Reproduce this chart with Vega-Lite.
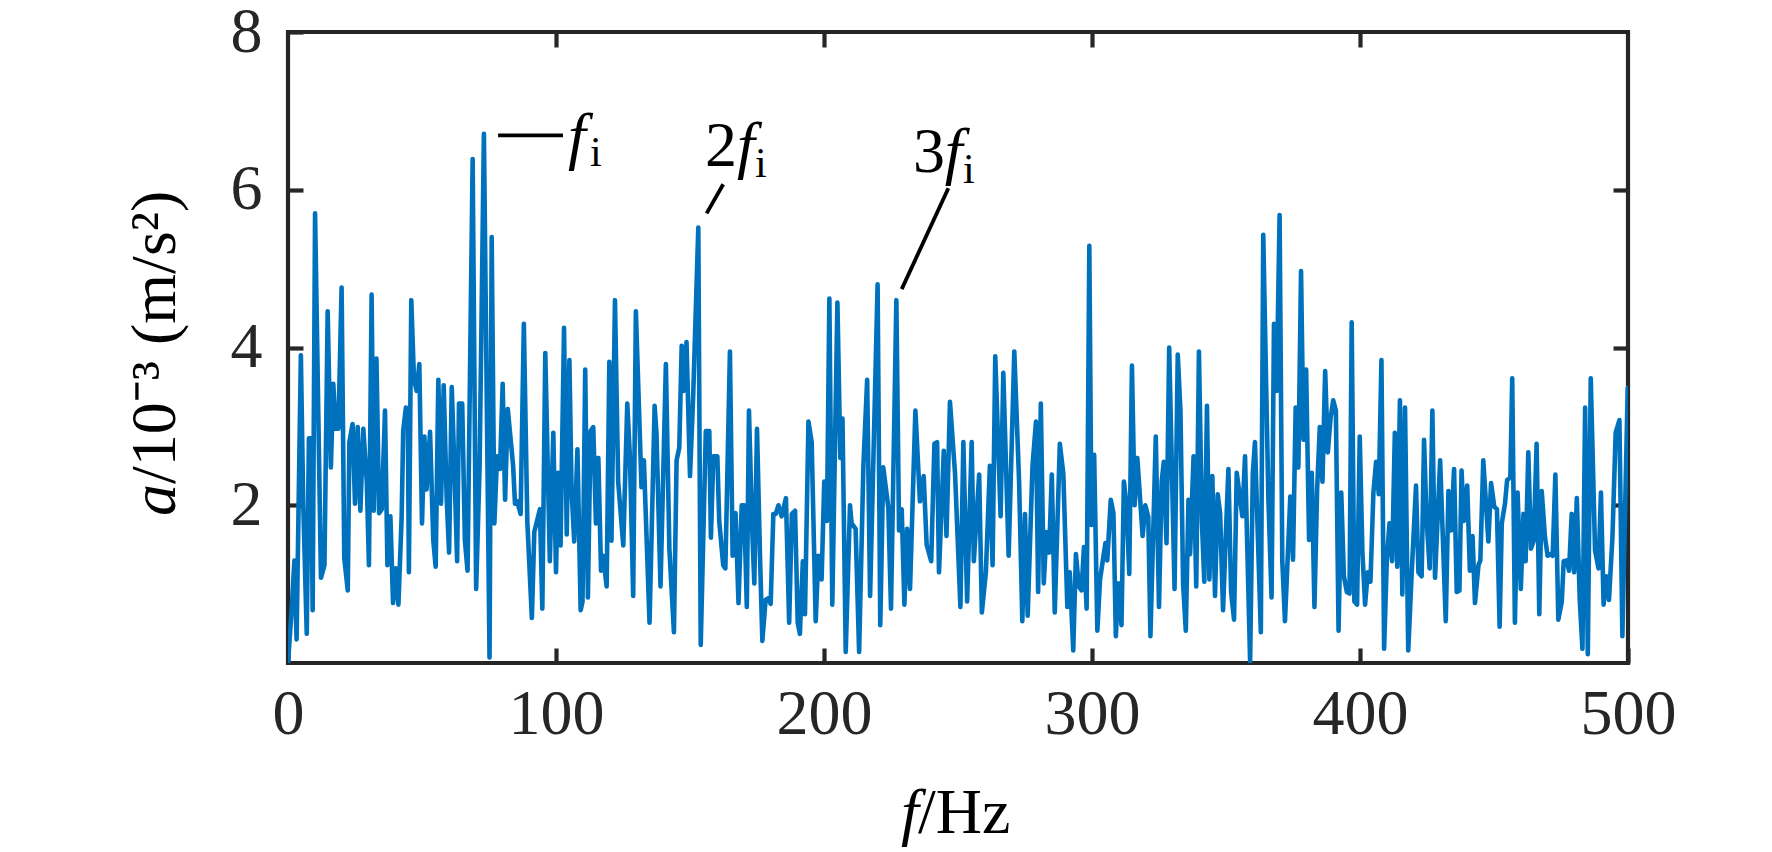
{
  "$schema": "https://vega.github.io/schema/vega-lite/v6.json",
  "description": "Acceleration spectrum a/10^-3 (m/s2) against frequency f/Hz, with fi, 2fi and 3fi marked.",
  "width": 1340,
  "height": 631,
  "autosize": "none",
  "padding": {"left": 288, "top": 32, "right": 144, "bottom": 189},
  "background": "white",
  "config": {
    "view": {"stroke": "#262626", "strokeWidth": 4.2},
    "font": "Liberation Serif"
  },
  "datasets": {
    "spectrum": [
      {"f":0,"a":0},{"f":1.4,"a":0.7},{"f":2.4,"a":1.3},{"f":3.2,"a":0.3},{"f":4.8,"a":3.9},{"f":5.7,"a":2.0},{"f":7,"a":0.37},{"f":7.8,"a":2.85},{"f":8.6,"a":2.85},{"f":9.2,"a":0.67},
      {"f":10.1,"a":5.7},{"f":12.3,"a":1.08},{"f":13.6,"a":1.24},{"f":14.8,"a":4.46},{"f":16,"a":2.48},{"f":16.9,"a":3.54},{"f":17.8,"a":2.97},{"f":18.8,"a":2.97},{"f":20,"a":4.76},{"f":21,"a":1.33},
      {"f":22.3,"a":0.92},{"f":22.9,"a":2.8},{"f":24.1,"a":3.03},{"f":25,"a":2.02},{"f":26,"a":2.99},{"f":27,"a":1.93},{"f":28.1,"a":2.97},{"f":29.4,"a":2.3},{"f":30.2,"a":1.24},{"f":31.2,"a":4.67},
      {"f":32,"a":1.93},{"f":33,"a":3.86},{"f":34,"a":1.9},{"f":35,"a":1.95},{"f":36.2,"a":3.2},{"f":37.1,"a":1.24},{"f":38.2,"a":1.86},{"f":39.2,"a":0.76},{"f":40.2,"a":1.2},{"f":41.2,"a":0.74},
      {"f":42.4,"a":1.85},{"f":43,"a":2.95},{"f":44,"a":3.24},{"f":44.7,"a":3.22},{"f":45.1,"a":1.15},{"f":46,"a":4.6},{"f":47,"a":3.6},{"f":48,"a":3.45},{"f":49,"a":3.79},{"f":50,"a":1.77},
      {"f":50.9,"a":2.87},{"f":51.7,"a":2.2},{"f":53,"a":2.93},{"f":54.2,"a":1.56},{"f":55.1,"a":1.22},{"f":56.1,"a":3.59},{"f":57.1,"a":2.02},{"f":58.1,"a":3.52},{"f":59.2,"a":2.1},{"f":60.1,"a":1.4},
      {"f":61.1,"a":3.5},{"f":62.1,"a":2.47},{"f":63.1,"a":1.29},{"f":63.8,"a":3.29},{"f":65,"a":3.29},{"f":66,"a":1.56},{"f":67,"a":1.17},{"f":68.9,"a":6.39},{"f":70.2,"a":0.94},{"f":71.5,"a":2.5},
      {"f":73.1,"a":6.71},{"f":75.2,"a":0.07},{"f":76,"a":5.4},{"f":77,"a":1.77},{"f":78,"a":2.62},{"f":79.1,"a":2.46},{"f":80.1,"a":3.54},{"f":81,"a":2.07},{"f":82,"a":3.22},{"f":84,"a":2.5},
      {"f":84.7,"a":2.02},{"f":85.5,"a":2.05},{"f":86.8,"a":1.89},{"f":88,"a":4.3},{"f":89.3,"a":1.79},{"f":91,"a":0.57},{"f":91.9,"a":1.66},{"f":94,"a":1.95},{"f":94.9,"a":0.69},{"f":96,"a":3.93},
      {"f":97.7,"a":1.29},{"f":99,"a":2.92},{"f":100,"a":1.15},{"f":100.8,"a":2.41},{"f":101.7,"a":1.49},{"f":103,"a":4.25},{"f":104,"a":1.63},{"f":105,"a":3.84},{"f":105.8,"a":2.2},{"f":106.8,"a":1.54},
      {"f":108,"a":2.71},{"f":109.2,"a":0.67},{"f":109.9,"a":0.78},{"f":110.9,"a":3.72},{"f":111.9,"a":0.83},{"f":112.9,"a":2.94},{"f":113.9,"a":2.99},{"f":114.9,"a":1.77},{"f":115.8,"a":2.6},{"f":116.8,"a":1.17},
      {"f":117.6,"a":1.36},{"f":118.9,"a":0.97},{"f":119.9,"a":3.82},{"f":120.7,"a":1.55},{"f":122,"a":4.6},{"f":123.2,"a":2.3},{"f":125.1,"a":1.49},{"f":126.6,"a":3.29},{"f":127.6,"a":2.6},{"f":128.8,"a":0.85},
      {"f":129.8,"a":4.46},{"f":131.9,"a":2.23},{"f":132.8,"a":2.57},{"f":134.9,"a":0.51},{"f":136.8,"a":3.26},{"f":137.5,"a":2.9},{"f":139,"a":0.97},{"f":141,"a":3.79},{"f":142.3,"a":1.45},{"f":144,"a":0.39},
      {"f":145,"a":2.57},{"f":146,"a":2.73},{"f":146.9,"a":4.02},{"f":147.7,"a":3.45},{"f":148.7,"a":4.07},{"f":150,"a":2.37},{"f":151.2,"a":3.4},{"f":153.1,"a":5.52},{"f":154,"a":0.23},{"f":155.9,"a":2.94},
      {"f":157.2,"a":2.94},{"f":157.8,"a":1.59},{"f":158.7,"a":2.62},{"f":160.2,"a":2.62},{"f":160.9,"a":1.8},{"f":162.4,"a":1.24},{"f":163.2,"a":1.2},{"f":164.9,"a":3.95},{"f":165.9,"a":1.36},{"f":167,"a":1.9},
      {"f":168.1,"a":0.76},{"f":169.3,"a":2.0},{"f":170.2,"a":2.0},{"f":171.2,"a":0.71},{"f":172,"a":3.2},{"f":173.2,"a":1.7},{"f":174,"a":1.01},{"f":175,"a":2.97},{"f":176.1,"a":1.38},{"f":177,"a":0.28},
      {"f":178.2,"a":0.8},{"f":179.2,"a":0.82},{"f":180.1,"a":0.75},{"f":181.1,"a":1.89},{"f":182,"a":1.89},{"f":183,"a":2.0},{"f":184.2,"a":1.86},{"f":185.8,"a":2.09},{"f":187,"a":0.51},{"f":188,"a":1.89},
      {"f":189.2,"a":1.93},{"f":190.2,"a":0.51},{"f":191,"a":0.37},{"f":192.1,"a":1.29},{"f":192.9,"a":0.62},{"f":194.2,"a":3.06},{"f":195.4,"a":2.8},{"f":196.9,"a":0.53},{"f":197.9,"a":1.36},{"f":199.1,"a":1.06},
      {"f":200.1,"a":2.3},{"f":201.1,"a":1.8},{"f":202,"a":4.62},{"f":203.1,"a":0.74},{"f":205,"a":4.57},{"f":206.1,"a":2.6},{"f":206.9,"a":3.1},{"f":208.1,"a":0.14},{"f":209.7,"a":2.0},{"f":210.3,"a":1.77},
      {"f":211.8,"a":1.7},{"f":213.1,"a":0.14},{"f":214.7,"a":2.5},{"f":216.1,"a":3.59},{"f":217.2,"a":0.85},{"f":220,"a":4.8},{"f":221,"a":0.48},{"f":222.1,"a":2.48},{"f":224,"a":1.97},{"f":225,"a":0.69},
      {"f":227,"a":4.6},{"f":228,"a":1.68},{"f":229,"a":1.95},{"f":230,"a":0.74},{"f":231,"a":1.7},{"f":232.1,"a":0.94},{"f":234.1,"a":3.2},{"f":235.8,"a":2.05},{"f":237.2,"a":2.37},{"f":238.3,"a":1.5},
      {"f":240,"a":1.29},{"f":241.2,"a":2.78},{"f":242.2,"a":2.8},{"f":242.9,"a":1.15},{"f":244.7,"a":2.69},{"f":245.7,"a":1.61},{"f":247,"a":3.31},{"f":248.9,"a":2.4},{"f":250.9,"a":0.71},{"f":252,"a":2.8},
      {"f":253.4,"a":0.78},{"f":255.1,"a":2.8},{"f":255.9,"a":1.29},{"f":257.9,"a":2.39},{"f":258.9,"a":0.64},{"f":260.4,"a":1.15},{"f":261.9,"a":2.5},{"f":262.9,"a":1.24},{"f":263.9,"a":3.89},{"f":265.9,"a":1.86},
      {"f":266.9,"a":3.68},{"f":268.9,"a":1.36},{"f":271,"a":3.95},{"f":272.8,"a":2.3},{"f":274,"a":0.53},{"f":275,"a":1.89},{"f":276,"a":0.6},{"f":277.8,"a":2.5},{"f":279.1,"a":3.06},{"f":279.9,"a":0.9},
      {"f":280.9,"a":3.29},{"f":282,"a":1.01},{"f":283,"a":1.66},{"f":284,"a":1.4},{"f":285,"a":2.39},{"f":286.1,"a":0.64},{"f":288,"a":2.78},{"f":289.3,"a":2.4},{"f":290.8,"a":0.71},{"f":291.7,"a":1.15},
      {"f":293,"a":0.16},{"f":294,"a":1.38},{"f":295.1,"a":0.97},{"f":296.1,"a":0.92},{"f":297,"a":1.47},{"f":298,"a":0.69},{"f":299,"a":5.29},{"f":299.8,"a":1.75},{"f":300.8,"a":2.64},{"f":302,"a":0.41},
      {"f":303,"a":1.06},{"f":305,"a":1.52},{"f":305.7,"a":1.3},{"f":307,"a":2.07},{"f":308,"a":1.9},{"f":308.9,"a":0.34},{"f":309.8,"a":1.01},{"f":311,"a":0.48},{"f":311.9,"a":2.3},{"f":312.9,"a":2.0},
      {"f":313.9,"a":1.13},{"f":314.9,"a":3.77},{"f":315.9,"a":2.0},{"f":316.9,"a":2.6},{"f":318.9,"a":1.61},{"f":319.9,"a":2.0},{"f":321,"a":1.85},{"f":321.8,"a":0.34},{"f":323.8,"a":2.87},{"f":325,"a":0.71},
      {"f":326,"a":2.3},{"f":326.8,"a":2.55},{"f":327.8,"a":1.52},{"f":328.8,"a":4.0},{"f":330.8,"a":0.94},{"f":332,"a":3.91},{"f":333,"a":3.2},{"f":334,"a":1.0},{"f":335,"a":0.41},{"f":336,"a":2.07},
      {"f":336.6,"a":1.38},{"f":337.9,"a":2.62},{"f":338.9,"a":0.97},{"f":339.9,"a":3.95},{"f":341,"a":1.8},{"f":341.9,"a":1.03},{"f":342.9,"a":3.26},{"f":343.8,"a":1.06},{"f":344.9,"a":2.37},{"f":345.9,"a":0.85},
      {"f":346.9,"a":2.14},{"f":347.8,"a":1.9},{"f":348.9,"a":0.67},{"f":349.9,"a":1.6},{"f":350.9,"a":2.46},{"f":351.9,"a":0.9},{"f":353,"a":0.55},{"f":354,"a":2.41},{"f":355.2,"a":2.1},{"f":356.1,"a":1.86},
      {"f":357.1,"a":2.62},{"f":359,"a":0.02},{"f":360,"a":2.4},{"f":360.8,"a":2.8},{"f":363,"a":0.39},{"f":363.9,"a":5.43},{"f":365.8,"a":2.1},{"f":367,"a":0.83},{"f":367.9,"a":4.3},{"f":368.9,"a":3.45},
      {"f":370,"a":5.68},{"f":371,"a":1.3},{"f":372,"a":0.53},{"f":374,"a":2.11},{"f":375,"a":1.31},{"f":376,"a":3.24},{"f":377,"a":2.48},{"f":378,"a":4.97},{"f":378.9,"a":2.83},{"f":379.9,"a":3.72},
      {"f":381,"a":1.56},{"f":382,"a":2.41},{"f":383,"a":0.71},{"f":384,"a":2.2},{"f":385,"a":2.99},{"f":386,"a":2.3},{"f":387,"a":3.7},{"f":388,"a":2.67},{"f":389,"a":3.1},{"f":390,"a":3.33},
      {"f":391,"a":3.2},{"f":392,"a":0.41},{"f":393,"a":2.16},{"f":394,"a":1.1},{"f":395.1,"a":0.9},{"f":396.1,"a":0.88},{"f":396.9,"a":4.32},{"f":397.9,"a":0.78},{"f":398.9,"a":0.74},{"f":399.9,"a":2.87},
      {"f":400.9,"a":1.4},{"f":401.9,"a":0.74},{"f":402.9,"a":1.15},{"f":403.9,"a":1.03},{"f":405,"a":2.16},{"f":406,"a":2.55},{"f":407,"a":2.14},{"f":408,"a":3.84},{"f":409,"a":0.18},{"f":410,"a":1.3},
      {"f":411,"a":1.77},{"f":412,"a":1.29},{"f":413,"a":2.92},{"f":413.9,"a":1.22},{"f":414.9,"a":3.33},{"f":415.8,"a":0.87},{"f":416.8,"a":3.24},{"f":418,"a":0.16},{"f":419.3,"a":1.15},{"f":420.9,"a":2.25},
      {"f":421.8,"a":1.15},{"f":423,"a":1.1},{"f":423.9,"a":2.83},{"f":424.8,"a":1.85},{"f":426,"a":1.2},{"f":427,"a":3.2},{"f":428,"a":1.08},{"f":429.9,"a":2.57},{"f":432,"a":0.53},{"f":433,"a":2.18},
      {"f":434,"a":1.68},{"f":435.1,"a":2.46},{"f":436.1,"a":0.9},{"f":437.1,"a":0.92},{"f":437.9,"a":2.44},{"f":438.7,"a":1.8},{"f":440,"a":2.25},{"f":441,"a":1.17},{"f":442,"a":1.61},{"f":442.9,"a":0.76},
      {"f":444.2,"a":1.24},{"f":444.9,"a":1.3},{"f":446,"a":2.57},{"f":447.9,"a":1.54},{"f":448.9,"a":2.28},{"f":450.1,"a":1.98},{"f":451.1,"a":1.95},{"f":452.1,"a":0.46},{"f":452.9,"a":1.77},{"f":454.1,"a":2.02},
      {"f":454.9,"a":2.32},{"f":456.1,"a":2.35},{"f":456.8,"a":3.61},{"f":457.8,"a":0.51},{"f":458.8,"a":2.16},{"f":460,"a":0.94},{"f":461,"a":1.89},{"f":461.8,"a":1.29},{"f":462.8,"a":2.67},{"f":463.8,"a":1.45},
      {"f":464.8,"a":1.55},{"f":465.9,"a":2.78},{"f":466.9,"a":0.62},{"f":467.8,"a":2.18},{"f":469,"a":1.6},{"f":470,"a":1.36},{"f":471,"a":1.38},{"f":471.9,"a":1.36},{"f":472.9,"a":2.39},{"f":474,"a":0.55},
      {"f":475.3,"a":0.78},{"f":476,"a":1.29},{"f":477.2,"a":1.3},{"f":478,"a":1.17},{"f":479,"a":1.89},{"f":479.9,"a":1.15},{"f":480.9,"a":2.09},{"f":482,"a":0.8},{"f":483,"a":0.18},{"f":484,"a":3.24},
      {"f":485,"a":0.11},{"f":486.1,"a":3.61},{"f":487.7,"a":1.43},{"f":489,"a":1.2},{"f":489.9,"a":2.16},{"f":490.9,"a":0.74},{"f":491.9,"a":1.1},{"f":492.9,"a":0.8},{"f":494.2,"a":1.6},{"f":495.4,"a":2.92},
      {"f":496.8,"a":3.08},{"f":497.9,"a":0.34},{"f":499.9,"a":3.49}
    ],
    "leaders": [
      {"f1": 78.4, "a1": 6.69, "f2": 102.6, "a2": 6.69},
      {"f1": 156.2, "a1": 5.70, "f2": 162.4, "a2": 6.07},
      {"f1": 229, "a1": 4.74, "f2": 246.4, "a2": 6.02}
    ],
    "italicText": [
      {"f": 104.5, "a": 6.42, "text": "f"},
      {"f": 167.5, "a": 6.30, "text": "f"},
      {"f": 245.1, "a": 6.22, "text": "f"},
      {"f": 228.7, "a": -2.15, "text": "f"}
    ],
    "romanText": [
      {"f": 155.6, "a": 6.30, "text": "2"},
      {"f": 233.2, "a": 6.22, "text": "3"},
      {"f": 235.1, "a": -2.15, "text": "/Hz"}
    ],
    "subText": [
      {"f": 112.7, "a": 6.30, "text": "i"},
      {"f": 174.3, "a": 6.16, "text": "i"},
      {"f": 251.9, "a": 6.08, "text": "i"}
    ],
    "yTitleItalic": [{"f": -42.2, "a": 2.27, "text": "a"}],
    "yTitleRoman": [{"f": -42.2, "a": 2.27, "text": "/10⁻³ (m/s²)"}]
  },
  "layer": [
    {
      "data": {"name": "spectrum"},
      "mark": {"type": "line", "color": "#0072BD", "strokeWidth": 4.6, "strokeJoin": "round", "strokeCap": "round", "clip": true},
      "encoding": {
        "x": {
          "field": "f", "type": "quantitative",
          "scale": {"domain": [0, 500], "nice": false, "zero": false},
          "axis": {
            "orient": "bottom", "values": [0, 100, 200, 300, 400, 500], "title": null,
            "domain": false, "grid": false,
            "tickSize": -15, "tickWidth": 4.2, "tickColor": "#262626",
            "labelFont": "Liberation Serif", "labelFontSize": 64, "labelColor": "#262626",
            "labelPadding": 34, "labelFlush": false, "labelOverlap": false, "labelBaseline": "top"
          }
        },
        "y": {
          "field": "a", "type": "quantitative",
          "scale": {"domain": [0, 8], "nice": false, "zero": false},
          "axis": {
            "orient": "left", "values": [2, 4, 6, 8], "title": null,
            "domain": false, "grid": false,
            "tickSize": -15, "tickWidth": 4.2, "tickColor": "#262626",
            "labelFont": "Liberation Serif", "labelFontSize": 64, "labelColor": "#262626",
            "labelPadding": 41, "labelFlush": false, "labelOverlap": false
          }
        }
      }
    },
    {
      "data": {"name": "spectrum"},
      "mark": {"type": "line", "opacity": 0},
      "encoding": {
        "x": {
          "field": "f", "type": "quantitative",
          "scale": {"domain": [0, 500], "nice": false, "zero": false},
          "axis": {
            "orient": "top", "values": [100, 200, 300, 400], "title": null,
            "domain": false, "grid": false, "labels": false,
            "tickSize": -15, "tickWidth": 4.2, "tickColor": "#262626"
          }
        },
        "y": {
          "field": "a", "type": "quantitative",
          "scale": {"domain": [0, 8], "nice": false, "zero": false},
          "axis": {
            "orient": "right", "values": [2, 4, 6], "title": null,
            "domain": false, "grid": false, "labels": false,
            "tickSize": -15, "tickWidth": 4.2, "tickColor": "#262626"
          }
        }
      }
    },
    {
      "data": {"name": "leaders"},
      "mark": {"type": "rule", "color": "#000000", "strokeWidth": 3.8},
      "encoding": {
        "x": {"field": "f1", "type": "quantitative", "scale": {"domain": [0, 500], "nice": false, "zero": false}, "axis": null},
        "y": {"field": "a1", "type": "quantitative", "scale": {"domain": [0, 8], "nice": false, "zero": false}, "axis": null},
        "x2": {"field": "f2"},
        "y2": {"field": "a2"}
      }
    },
    {
      "data": {"name": "italicText"},
      "mark": {"type": "text", "font": "Liberation Serif", "fontStyle": "italic", "fontSize": 64, "align": "left", "baseline": "alphabetic", "color": "#000000"},
      "encoding": {
        "x": {"field": "f", "type": "quantitative", "scale": {"domain": [0, 500], "nice": false, "zero": false}, "axis": null},
        "y": {"field": "a", "type": "quantitative", "scale": {"domain": [0, 8], "nice": false, "zero": false}, "axis": null},
        "text": {"field": "text"}
      }
    },
    {
      "data": {"name": "romanText"},
      "mark": {"type": "text", "font": "Liberation Serif", "fontSize": 64, "align": "left", "baseline": "alphabetic", "color": "#000000"},
      "encoding": {
        "x": {"field": "f", "type": "quantitative", "scale": {"domain": [0, 500], "nice": false, "zero": false}, "axis": null},
        "y": {"field": "a", "type": "quantitative", "scale": {"domain": [0, 8], "nice": false, "zero": false}, "axis": null},
        "text": {"field": "text"}
      }
    },
    {
      "data": {"name": "subText"},
      "mark": {"type": "text", "font": "Liberation Serif", "fontSize": 42, "align": "left", "baseline": "alphabetic", "color": "#000000"},
      "encoding": {
        "x": {"field": "f", "type": "quantitative", "scale": {"domain": [0, 500], "nice": false, "zero": false}, "axis": null},
        "y": {"field": "a", "type": "quantitative", "scale": {"domain": [0, 8], "nice": false, "zero": false}, "axis": null},
        "text": {"field": "text"}
      }
    },
    {
      "data": {"name": "yTitleItalic"},
      "mark": {"type": "text", "font": "Liberation Serif", "fontStyle": "italic", "fontSize": 64, "angle": 270, "align": "right", "baseline": "alphabetic", "color": "#000000"},
      "encoding": {
        "x": {"field": "f", "type": "quantitative", "scale": {"domain": [0, 500], "nice": false, "zero": false}, "axis": null},
        "y": {"field": "a", "type": "quantitative", "scale": {"domain": [0, 8], "nice": false, "zero": false}, "axis": null},
        "text": {"field": "text"}
      }
    },
    {
      "data": {"name": "yTitleRoman"},
      "mark": {"type": "text", "font": "Liberation Serif", "fontSize": 64, "angle": 270, "align": "left", "baseline": "alphabetic", "color": "#000000"},
      "encoding": {
        "x": {"field": "f", "type": "quantitative", "scale": {"domain": [0, 500], "nice": false, "zero": false}, "axis": null},
        "y": {"field": "a", "type": "quantitative", "scale": {"domain": [0, 8], "nice": false, "zero": false}, "axis": null},
        "text": {"field": "text"}
      }
    }
  ],
  "resolve": {"scale": {"x": "independent", "y": "independent"}}
}
